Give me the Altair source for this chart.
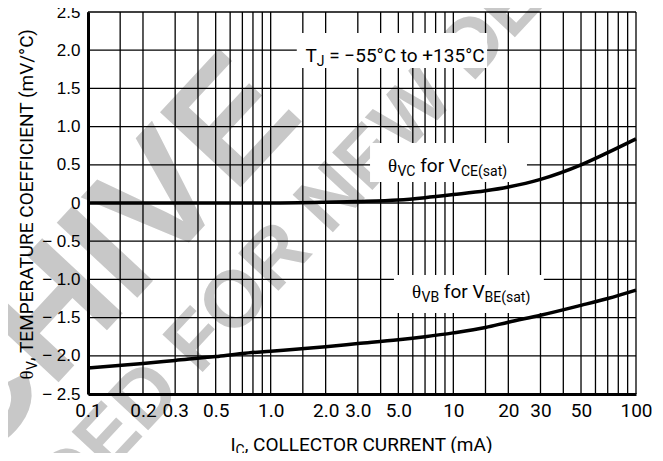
import altair as alt
import pandas as pd

# ---------------- data ----------------
ic_ma = [0.1, 0.2, 0.3, 0.5, 0.7, 1.0, 2.0, 3.0, 5.0, 7.0, 10, 15, 20, 30, 50, 70, 100]
theta_vc = [0.0, 0.0, 0.0, 0.0, 0.0, 0.0, 0.01, 0.02, 0.04, 0.07, 0.11, 0.16, 0.21, 0.31, 0.50, 0.66, 0.84]
theta_vb = [-2.16, -2.10, -2.06, -2.01, -1.97, -1.94, -1.88, -1.84, -1.79, -1.75, -1.70, -1.63, -1.56, -1.47, -1.34, -1.25, -1.14]

x_grid_ma = [0.1, 0.15, 0.2, 0.3, 0.4, 0.5, 0.6, 0.7, 0.8, 0.9,
             1.0, 1.5, 2.0, 3.0, 4.0, 5.0, 6.0, 7.0, 8.0, 9.0,
             10, 15, 20, 30, 40, 50, 60, 70, 80, 90, 100]
y_grid = [-2.5, -2.0, -1.5, -1.0, -0.5, 0.0, 0.5, 1.0, 1.5, 2.0, 2.5]
x_tick_ma = [0.1, 0.2, 0.3, 0.5, 1.0, 2.0, 3.0, 5.0, 10, 20, 30, 50, 100]

# white label boxes (data units)
box_x1 = [1.39, 3.5, 4.73]
box_x2 = [15.3, 25.3, 31.3]
box_y1 = [1.767, 0.275, -1.44]
box_y2 = [2.225, 0.785, -0.942]

# annotation anchors (data units, left/baseline of first glyph)
ann_x = [1.55, 4.39, 5.94]
ann_y = [1.852, 0.406, -1.243]

# ---------------- styling ----------------
W_PLOT, H_PLOT = 548, 382
SANS = "Roboto"
SERIF = "Liberation Serif"
REG = "Liberation Sans"
MAIN, SUB, SHIFT = 19, 14, 4

xs = alt.Scale(type="log", domain=[0.1, 100])
ys = alt.Scale(domain=[-2.5, 2.5], nice=False, zero=False)

xaxis = alt.Axis(values=x_tick_ma, grid=False, ticks=False, tickSize=0, domain=True,
                 domainColor="black", domainWidth=3, title=None,
                 labelFont=SANS, labelFontSize=19, labelColor="black", labelPadding=7,
                 labelFlush=False, labelOverlap=False, zindex=1,
                 labelExpr="datum.value < 10 ? format(datum.value, '.1f') : format(datum.value, 'd')")
yaxis = alt.Axis(values=y_grid, grid=False, ticks=False, tickSize=0, domain=True,
                 domainColor="black", domainWidth=3, title=None,
                 labelFont=REG, labelFontSize=17, labelColor="black", labelPadding=8,
                 labelFlush=False, labelOverlap=False, zindex=1,
                 labelExpr="datum.value == 0 ? '0' : (datum.value < 0 ? '\u2212 ' + format(-datum.value, '.1f') : format(datum.value, '.1f'))")

# approximate Roboto advance widths (per 1000 em)
W_SANS = {' ': 248, ',': 196, '.': 263, '(': 342, ')': 348, '/': 412, '=': 549, '+': 567,
          '\u2212': 567, '\u00b0': 383,
          '0': 562, '1': 562, '2': 562, '3': 562, '4': 562, '5': 562, '6': 562, '7': 562, '8': 562, '9': 562,
          'A': 652, 'B': 622, 'C': 651, 'D': 656, 'E': 568, 'F': 553, 'H': 713, 'I': 272,
          'J': 552, 'L': 538, 'M': 873, 'N': 713, 'O': 688, 'P': 631, 'R': 616, 'S': 593,
          'T': 597, 'U': 648, 'V': 636, 'W': 887,
          'a': 544, 'e': 530, 'f': 348, 'm': 876, 'n': 552, 'o': 570, 'r': 339, 's': 516, 't': 327}
W_SERIF = {'\u03b8': 500}


def tw(s, size, font):
    table = W_SERIF if font == SERIF else W_SANS
    return sum(table.get(c, 560) for c in s) * size / 1000.0


def piece_list(spec):
    out = []
    for txt, kind in spec:
        if kind == "theta":
            out.append((txt, MAIN, SERIF, 0))
        elif kind == "sub":
            out.append((txt, SUB, SANS, SHIFT))
        else:
            out.append((txt, MAIN, SANS, 0))
    return out


def composite(data, xenc, yenc, pieces, angle=0):
    """Place text pieces one after another (leading spaces become offsets)."""
    layers = []
    off = 0.0
    for txt, size, font, dy in pieces:
        stripped = txt.lstrip(" ")
        off += tw(" " * (len(txt) - len(stripped)), size, font)
        layers.append(
            alt.Chart(data).mark_text(text=stripped, font=font, fontSize=size, align="left",
                                      baseline="alphabetic", dx=off, dy=dy, angle=angle,
                                      color="black")
            .encode(x=xenc, y=yenc))
        off += tw(stripped, size, font)
    return layers, off


def total_width(pieces):
    return sum(tw(t, s, f) for t, s, f, _ in pieces)


one = pd.DataFrame({"k": [0]})

# ---------------- watermark ----------------
WM = "#c8c8c8"
wm = [
    alt.Chart(one).mark_text(text="ARCHIVE", font=REG, fontWeight="bold", fontSize=160,
                             align="right", baseline="alphabetic", angle=313, color=WM)
    .encode(x=alt.value(218), y=alt.value(105)),
    alt.Chart(one).mark_text(text="NOT RECOMMENDED", font=REG, fontWeight="bold", fontSize=80,
                             align="right", baseline="alphabetic", angle=313, dx=-22, color=WM)
    .encode(x=alt.value(111), y=alt.value(364)),
    alt.Chart(one).mark_text(text="FOR NEW DESIGNS", font=REG, fontWeight="bold", fontSize=80,
                             align="left", baseline="alphabetic", angle=313, color=WM)
    .encode(x=alt.value(111), y=alt.value(364)),
]

# ---------------- grid ----------------
vgrid = alt.Chart(pd.DataFrame({"ic": x_grid_ma})).mark_rule(color="black", strokeWidth=1.3).encode(
    x=alt.X("ic:Q", scale=xs, axis=xaxis))
hgrid = alt.Chart(pd.DataFrame({"v": y_grid})).mark_rule(color="black", strokeWidth=1.3).encode(
    y=alt.Y("v:Q", scale=ys, axis=yaxis))

# ---------------- label boxes ----------------
boxes = alt.Chart(pd.DataFrame({"x1": box_x1, "x2": box_x2, "y1": box_y1, "y2": box_y2})).mark_rect(
    color="white").encode(
    x=alt.X("x1:Q", scale=xs, axis=xaxis), x2="x2:Q",
    y=alt.Y("y1:Q", scale=ys, axis=yaxis), y2="y2:Q")

# ---------------- curves ----------------
curves_df = pd.concat([
    pd.DataFrame({"ic": ic_ma, "theta": theta_vc, "curve": "VC"}),
    pd.DataFrame({"ic": ic_ma, "theta": theta_vb, "curve": "VB"}),
])
curves = alt.Chart(curves_df).mark_line(color="black", strokeWidth=3.5, interpolate="monotone").encode(
    x=alt.X("ic:Q", scale=xs, axis=xaxis),
    y=alt.Y("theta:Q", scale=ys, axis=yaxis),
    detail="curve:N")

# ---------------- annotations ----------------
ann_layers = []
ann_specs = [
    [("T", "main"), ("J", "sub"), (" = \u221255\u00b0C to +135\u00b0C", "main")],
    [("\u03b8", "theta"), ("VC", "sub"), (" for V", "main"), ("CE(sat)", "sub")],
    [("\u03b8", "theta"), ("VB", "sub"), (" for V", "main"), ("BE(sat)", "sub")],
]
for i, spec in enumerate(ann_specs):
    d = pd.DataFrame({"ax": [ann_x[i]], "ay": [ann_y[i]]})
    lys, _ = composite(d, alt.X("ax:Q", scale=xs, axis=xaxis), alt.Y("ay:Q", scale=ys, axis=yaxis),
                       piece_list(spec))
    ann_layers += lys

# ---------------- axis titles (with subscripts) ----------------
xt_spec = piece_list([("I", "main"), ("C", "sub"), (", COLLECTOR CURRENT (mA)", "main")])
xt_layers, _ = composite(one, alt.value(W_PLOT / 2 - total_width(xt_spec) / 2),
                         alt.value(H_PLOT + 57), xt_spec)

yt_spec = piece_list([("\u03b8", "theta"), ("V", "sub"), (", TEMPERATURE COEFFICIENT (mV/\u00b0C)", "main")])
yt_layers, _ = composite(one, alt.value(-55), alt.value(H_PLOT / 2 + total_width(yt_spec) / 2),
                         yt_spec, angle=270)

chart = alt.layer(
    *wm, vgrid, hgrid, boxes, curves, *ann_layers, *xt_layers, *yt_layers
).properties(
    width=W_PLOT, height=H_PLOT,
    padding={"left": 80, "top": 4, "right": 19, "bottom": 59},
    autosize=alt.AutoSizeParams(type="none"),
    background="white",
).configure_view(stroke=None)

chart.save("out.html", embed_options={"renderer": "svg", "actions": False})
